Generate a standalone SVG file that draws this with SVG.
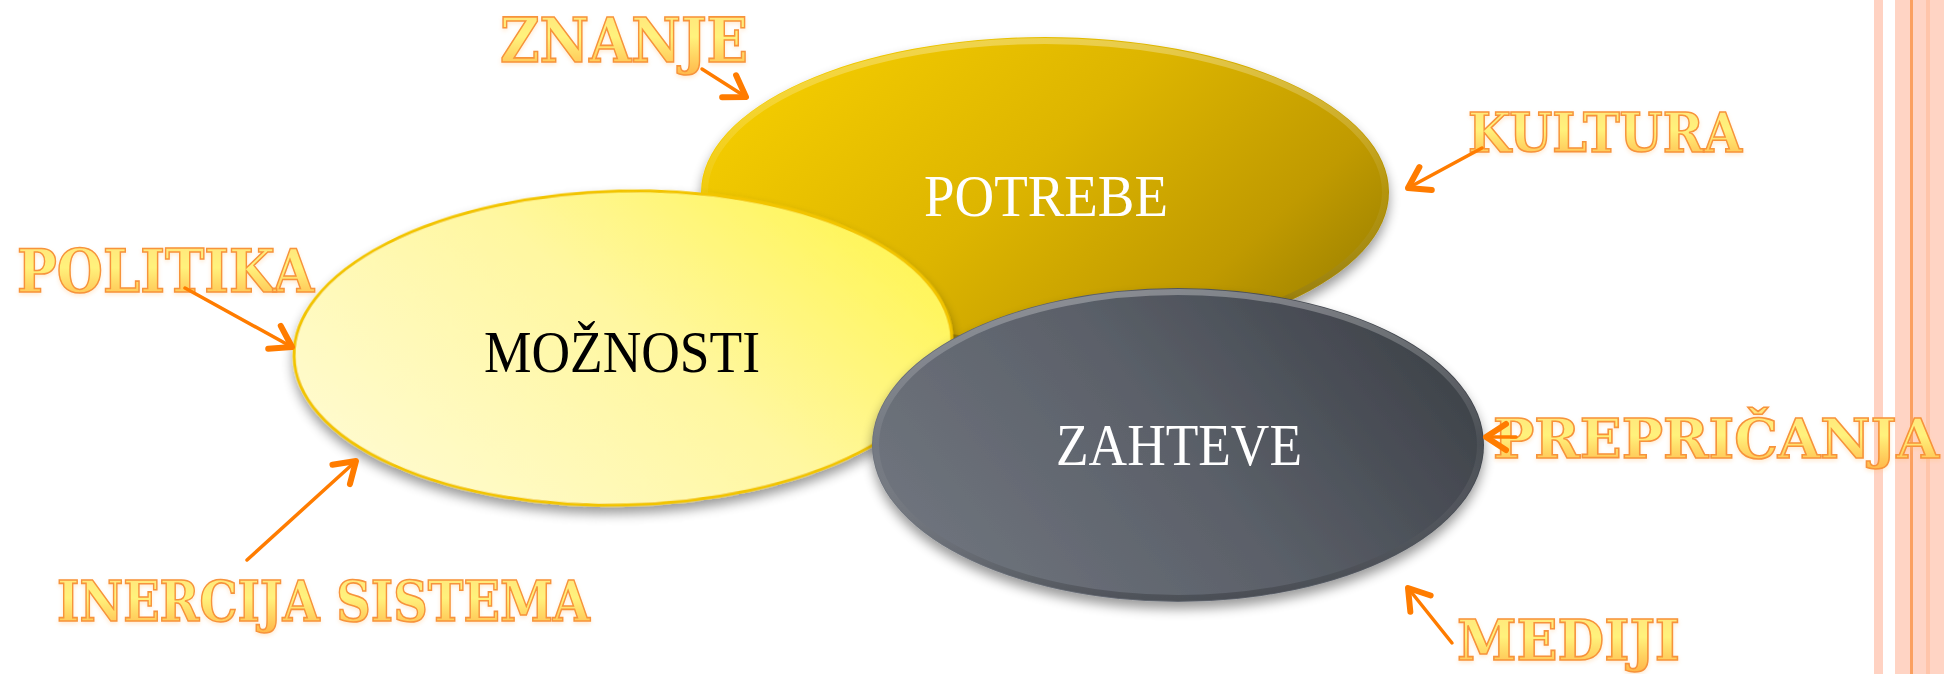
<svg xmlns="http://www.w3.org/2000/svg" width="1944" height="674" viewBox="0 0 1944 674">
  <style>
    .lbl { font-family: "DejaVu Serif", "Liberation Serif", serif; font-weight: bold; fill: url(#lblFill); stroke: #F7933A; stroke-width: 1.6; filter: url(#glow); }
    .ntxt { font-family: "Liberation Serif", "Times New Roman", serif; font-size: 60px; }
    .arrow { fill: none; stroke: #FF7C00; stroke-width: 3.5; stroke-linecap: round; marker-end: url(#head); }
  </style>
  <defs>
    <linearGradient id="lblFill" x1="0" y1="0" x2="0" y2="1">
      <stop offset="0" stop-color="#FFE27A"/>
      <stop offset="0.45" stop-color="#FFF27C"/>
      <stop offset="1" stop-color="#FFB547"/>
    </linearGradient>
    <linearGradient id="gold" x1="0" y1="0.25" x2="1" y2="0.75">
      <stop offset="0" stop-color="#F5CD00"/>
      <stop offset="0.45" stop-color="#DDB500"/>
      <stop offset="0.8" stop-color="#C09A00"/>
      <stop offset="1" stop-color="#9E8200"/>
    </linearGradient>
    <linearGradient id="lightYellow" x1="0" y1="0.8" x2="1" y2="0.25">
      <stop offset="0" stop-color="#FFFBD2"/>
      <stop offset="0.55" stop-color="#FFF7A0"/>
      <stop offset="1" stop-color="#FFF552"/>
    </linearGradient>
    <linearGradient id="gray" x1="0" y1="0.7" x2="1" y2="0.3">
      <stop offset="0" stop-color="#70757E"/>
      <stop offset="0.5" stop-color="#5B6069"/>
      <stop offset="1" stop-color="#3D4148"/>
    </linearGradient>
    <linearGradient id="rim" x1="0" y1="0" x2="0" y2="1">
      <stop offset="0" stop-color="#FFFFFF" stop-opacity="0.3"/>
      <stop offset="0.5" stop-color="#FFFFFF" stop-opacity="0.05"/>
      <stop offset="1" stop-color="#000000" stop-opacity="0.22"/>
    </linearGradient>
    <filter id="shadow" x="-10%" y="-10%" width="120%" height="130%">
      <feGaussianBlur in="SourceAlpha" stdDeviation="6"/>
      <feOffset dx="0" dy="7" result="b"/>
      <feComponentTransfer><feFuncA type="linear" slope="0.4"/></feComponentTransfer>
      <feMerge><feMergeNode/><feMergeNode in="SourceGraphic"/></feMerge>
    </filter>
    <filter id="glow" x="-5%" y="-20%" width="110%" height="150%">
      <feGaussianBlur in="SourceAlpha" stdDeviation="2"/>
      <feOffset dx="0" dy="2"/>
      <feComponentTransfer><feFuncA type="linear" slope="0.35"/></feComponentTransfer>
      <feColorMatrix type="matrix" values="0 0 0 0 1  0 0 0 0 0.55  0 0 0 0 0.2  0 0 0 1 0"/>
      <feMerge><feMergeNode/><feMergeNode in="SourceGraphic"/></feMerge>
    </filter>
    <marker id="head" viewBox="-26 -18 30 36" refX="0" refY="0" markerWidth="30" markerHeight="36" markerUnits="userSpaceOnUse" orient="auto">
      <path d="M-20,-13 L0,0 L-20,13" fill="none" stroke="#FF7C00" stroke-width="6" stroke-linecap="round" stroke-linejoin="round"/>
    </marker>
  </defs>

  <rect width="1944" height="674" fill="#FFFFFF"/>

  <g id="stripes">
    <rect x="1874" y="0" width="9" height="674" fill="#FFD2C2"/>
    <rect x="1895" y="0" width="49" height="674" fill="#FFD4C4"/>
    <rect x="1926" y="0" width="4" height="674" fill="#FFC5AA"/>
    <rect x="1910" y="0" width="3" height="674" fill="#FBA060"/>
  </g>

  <g id="node-potrebe">
    <ellipse cx="1045" cy="192" rx="344" ry="155" fill="url(#gold)" filter="url(#shadow)"/>
    <ellipse cx="1045" cy="192" rx="340" ry="151" fill="none" stroke="url(#rim)" stroke-width="6"/>
    <text class="ntxt" x="924" y="216" fill="#FFFFFF" textLength="244" lengthAdjust="spacingAndGlyphs">POTREBE</text>
  </g>

  <g id="node-moznosti">
    <ellipse cx="623" cy="348" rx="329" ry="157" transform="rotate(-1.5 623 348)" fill="url(#lightYellow)" stroke="#F2C400" stroke-width="3" filter="url(#shadow)"/>
    <text class="ntxt" x="484" y="372" fill="#000000" textLength="276" lengthAdjust="spacingAndGlyphs">MOŽNOSTI</text>
  </g>

  <g id="node-zahteve">
    <ellipse cx="1178" cy="445" rx="306" ry="157" fill="url(#gray)" filter="url(#shadow)"/>
    <ellipse cx="1178" cy="445" rx="302" ry="153" fill="none" stroke="url(#rim)" stroke-width="6"/>
    <text class="ntxt" x="1056" y="465" fill="#FFFFFF" textLength="246" lengthAdjust="spacingAndGlyphs">ZAHTEVE</text>
  </g>

  <g id="label-znanje"><text class="lbl" x="500" y="62" font-size="62" textLength="248" lengthAdjust="spacingAndGlyphs">ZNANJE</text></g>
  <g id="label-kultura"><text class="lbl" x="1468" y="152" font-size="55" textLength="274" lengthAdjust="spacingAndGlyphs">KULTURA</text></g>
  <g id="label-politika"><text class="lbl" x="17" y="292" font-size="60" textLength="297" lengthAdjust="spacingAndGlyphs">POLITIKA</text></g>
  <g id="label-inercija"><text class="lbl" x="57" y="621" font-size="56" textLength="533" lengthAdjust="spacingAndGlyphs">INERCIJA SISTEMA</text></g>
  <g id="label-prepricanja"><text class="lbl" x="1493" y="458" font-size="55" textLength="446" lengthAdjust="spacingAndGlyphs">PREPRIČANJA</text></g>
  <g id="label-mediji"><text class="lbl" x="1457" y="660" font-size="56" textLength="223" lengthAdjust="spacingAndGlyphs">MEDIJI</text></g>

  <g id="connectors">
    <line class="arrow" x1="702" y1="69" x2="746" y2="97"/>
    <line class="arrow" x1="1482" y1="148" x2="1408" y2="188"/>
    <line class="arrow" x1="185" y1="288" x2="292" y2="347"/>
    <line class="arrow" x1="247" y1="560" x2="356" y2="461"/>
    <line class="arrow" x1="1516" y1="437" x2="1486" y2="437"/>
    <line class="arrow" x1="1452" y1="643" x2="1408" y2="588"/>
  </g>
</svg>
